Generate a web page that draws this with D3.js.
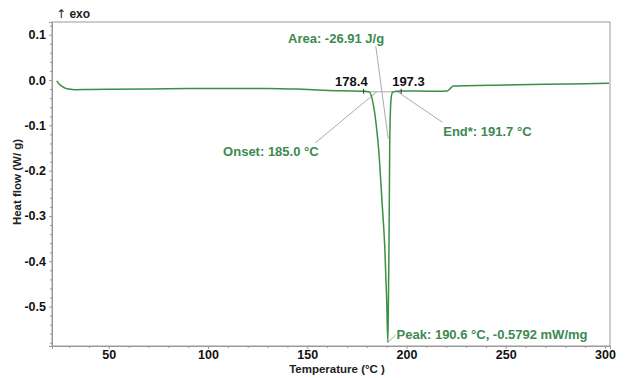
<!DOCTYPE html>
<html>
<head>
<meta charset="utf-8">
<script src="https://cdn.jsdelivr.net/npm/d3@7"></script>
<style>
  body { margin: 0; background: #fff; }
  svg text { font-family: "Liberation Sans", Arial, sans-serif; font-weight: bold; }
</style>
</head>
<body>
<svg id="chart" width="627" height="378"></svg>
<script>
// DSC curve (temperature in °C, heat flow in W/g)
var temps = [23.8, 25, 26.5, 28, 30, 33, 40, 50, 70, 90, 110, 130, 145, 155, 165, 172, 178.4,
  181.2, 183.5, 185, 186, 187.6, 189.1, 190, 190.6, 190.9, 191.2, 191.5, 191.9, 192.4, 193, 195,
  197.3, 205, 215, 220.5, 222, 223.5, 230, 250, 270, 290, 302];
var flows = [-0.002, -0.009, -0.014, -0.018, -0.020, -0.0215, -0.021, -0.0205, -0.020, -0.019, -0.0185, -0.0185, -0.020, -0.022, -0.0235, -0.024, -0.025,
  -0.0265, -0.06, -0.11, -0.155, -0.265, -0.375, -0.486, -0.5792, -0.48, -0.35, -0.16, -0.065, -0.035, -0.027, -0.025,
  -0.0245, -0.0245, -0.025, -0.0245, -0.019, -0.0135, -0.0125, -0.011, -0.0095, -0.008, -0.0073];

var xTicks = [50, 100, 150, 200, 250, 300];
var yTicks = [0.1, 0.0, -0.1, -0.2, -0.3, -0.4, -0.5];

// integration limits and baseline level
var limits = [178.4, 197.3];
var baseLevel = -0.026;

// annotation texts, anchored in data units
var notes = [
  {text: "Area: -26.91 J/g", t: 164.5, v: 0.0815, anchor: "middle", color: "green"},
  {text: "178.4", t: 178.4, v: -0.013, anchor: "end", dx: 4, color: "black"},
  {text: "197.3", t: 197.3, v: -0.013, anchor: "start", dx: -9, color: "black"},
  {text: "Onset: 185.0 °C", t: 107.6, v: -0.168, anchor: "start", color: "green"},
  {text: "End*: 191.7 °C", t: 218.5, v: -0.124, anchor: "start", color: "green"},
  {text: "Peak: 190.6 °C, -0.5792 mW/mg", t: 195, v: -0.571, anchor: "start", color: "green"}
];
// leader lines: [from t, from v, to t, to v]
var leaders = [
  [184.5, 0.075, 190.8, -0.13],
  [154, -0.139, 185.0, baseLevel],
  [218, -0.093, 195.5, baseLevel],
  [190.6, -0.5792, 194.5, -0.563]
];

var svg = d3.select("#chart");
var margin = {top: 22, right: 17, bottom: 32, left: 52},
    width = 627 - margin.left - margin.right,
    height = 378 - margin.top - margin.bottom;

var green = "#3c8a50", lineGreen = "#3a9045", axisGray = "#9a9a9a";

var x = d3.scaleLinear().domain([21.4, 302.5]).range([0, width]);
var y = d3.scaleLinear().domain([-0.587, 0.128]).range([height, 0]);

var g = svg.append("g")
  .attr("transform", "translate(" + margin.left + "," + margin.top + ")");

// frame
g.append("rect")
  .attr("width", width).attr("height", height)
  .attr("fill", "none").attr("stroke", axisGray).attr("stroke-width", 1);

// minor ticks
var xMinor = d3.range(30, 301, 10).filter(function(d) { return d % 50 != 0; });
var yMinor = d3.range(-58, 13, 2).map(function(d) { return d / 100; }).filter(function(d) { return Math.round(d * 100) % 10 != 0; });

var xAxis = g.append("g")
  .attr("transform", "translate(0," + height + ")")
  .call(d3.axisBottom(x).tickValues(xTicks).tickSize(3).tickPadding(1).tickFormat(d3.format("d")));
var xAxisMinor = g.append("g")
  .attr("transform", "translate(0," + height + ")")
  .call(d3.axisBottom(x).tickValues(xMinor).tickSize(2).tickFormat(""));

var yAxis = g.append("g")
  .call(d3.axisLeft(y).tickValues(yTicks).tickSize(3).tickPadding(3).tickFormat(function(d) { return d.toFixed(1); }));
var yAxisMinor = g.append("g")
  .call(d3.axisLeft(y).tickValues(yMinor).tickSize(2).tickFormat(""));

[xAxis, xAxisMinor, yAxis, yAxisMinor].forEach(function(a) {
  a.select(".domain").attr("stroke", axisGray);
  a.selectAll(".tick line").attr("stroke", axisGray);
  a.selectAll(".tick text")
    .attr("fill", "#111")
    .attr("font-size", "12.5px")
    .attr("font-family", "Liberation Sans, Arial, sans-serif")
    .attr("font-weight", "bold");
});

// integration baseline
g.append("line")
  .attr("x1", x(limits[0])).attr("x2", x(limits[1]))
  .attr("y1", y(baseLevel)).attr("y2", y(baseLevel))
  .attr("stroke", "#aaa").attr("stroke-width", 1);

// leader lines
g.selectAll(".leader")
  .data(leaders)
  .enter().append("line")
  .attr("class", "leader")
  .attr("x1", function(d) { return x(d[0]); })
  .attr("y1", function(d) { return y(d[1]); })
  .attr("x2", function(d) { return x(d[2]); })
  .attr("y2", function(d) { return y(d[3]); })
  .attr("stroke", "#a0a0a0").attr("stroke-width", 0.9);

// curve
var line = d3.line()
  .curve(d3.curveMonotoneX)
  .x(function(d) { return x(d[0]); })
  .y(function(d) { return y(d[1]); });

g.append("path")
  .datum(d3.zip(temps, flows))
  .attr("d", line)
  .attr("fill", "none")
  .attr("stroke", lineGreen)
  .attr("stroke-width", 1.5);

// limit markers
g.selectAll(".limit")
  .data(limits)
  .enter().append("line")
  .attr("class", "limit")
  .attr("x1", function(d) { return x(d); })
  .attr("x2", function(d) { return x(d); })
  .attr("y1", y(baseLevel) - 3)
  .attr("y2", y(baseLevel) + 2)
  .attr("stroke", "#333").attr("stroke-width", 1);

// annotation texts
g.selectAll(".note")
  .data(notes)
  .enter().append("text")
  .attr("class", "note")
  .attr("x", function(d) { return x(d.t) + (d.dx || 0); })
  .attr("y", function(d) { return y(d.v); })
  .attr("text-anchor", function(d) { return d.anchor; })
  .attr("fill", function(d) { return d.color == "green" ? green : "#111"; })
  .attr("font-size", "13px")
  .text(function(d) { return d.text; });

// exo marker
var exo = svg.append("text")
  .attr("x", margin.left + 4)
  .attr("y", 18)
  .attr("font-size", "12px")
  .attr("fill", "#222");
exo.append("tspan").style("font-family", "DejaVu Sans").style("font-weight", "normal").text("↑");
exo.append("tspan").text(" exo");

// axis titles
svg.append("text")
  .attr("transform", "translate(21," + (margin.top + y(-0.225)) + ") rotate(-90)")
  .attr("text-anchor", "middle")
  .attr("font-size", "11.5px")
  .attr("fill", "#222")
  .text("Heat flow (W/ g)");

svg.append("text")
  .attr("x", margin.left + x(165))
  .attr("y", 373)
  .attr("text-anchor", "middle")
  .attr("font-size", "11.5px")
  .attr("fill", "#222")
  .text("Temperature (°C )");
</script>
</body>
</html>
